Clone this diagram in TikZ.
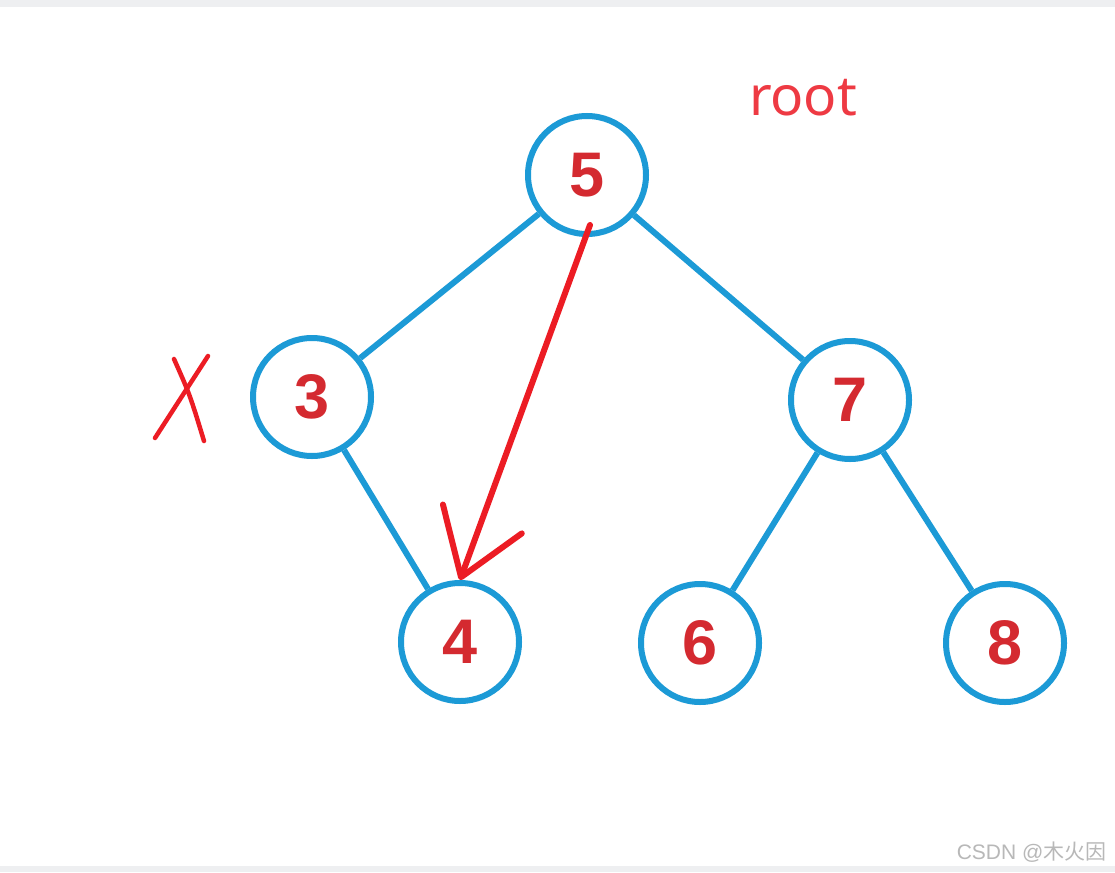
\documentclass[tikz,border=0pt]{standalone}
\usepackage{fontspec}
\usetikzlibrary{arrows.meta}
\setmainfont{Liberation Sans}
\newfontfamily\rootfont{Noto Sans}
\newfontfamily\cjk{Noto Sans CJK SC}
\definecolor{treeblue}{HTML}{1C9AD6}
\definecolor{numred}{HTML}{D42A30}
\definecolor{inkred}{HTML}{EC1C24}
\definecolor{rootred}{HTML}{EE3A43}
\definecolor{bandgray}{HTML}{EEEFF1}
\definecolor{marktext}{HTML}{B8B8B8}
\tikzset{treenode/.style={circle,draw=treeblue,line width=6pt,minimum size=118pt,
  inner sep=0pt,font=\fontsize{63}{63}\selectfont\bfseries,text=numred},
  branch/.style={draw=treeblue,line width=6pt},
  ink/.style={draw=inkred,line width=6pt,line cap=round,line join=round}}

\begin{document}
\begin{tikzpicture}[x=1pt,y=-1pt]
\fill[white] (0,0) rectangle (1115,872);
\fill[bandgray] (0,0) rectangle (1115,7);
\fill[bandgray] (0,866) rectangle (1115,872);
% tree
\node[treenode] (n5) at (587,175) {5};
\node[treenode] (n3) at (312,397) {3};
\node[treenode] (n7) at (850,400) {7};
\node[treenode] (n4) at (460,642) {4};
\node[treenode] (n6) at (700,643) {6};
\node[treenode] (n8) at (1005,643) {8};
\draw[branch] (n5)--(n3);\draw[branch] (n5)--(n7);
\draw[branch] (n3)--(n4);
\draw[branch] (n7)--(n6);\draw[branch] (n7)--(n8);
% hand marks
\node[font=\rootfont\fontsize{55}{55}\selectfont,text=rootred] (root) at (803,98) {root};
\coordinate (tail) at (590,225);
\draw[ink,-{Straight Barb[length=62pt,width=84pt,round]}] (tail)--(n4.north);
\draw[ink,line width=4.5pt] (155,438)--(208,356);
\draw[ink,line width=4.5pt] (174,359) .. controls (190,395) .. (204,441);
\node[anchor=east,text=marktext,font=\fontsize{21}{21}\selectfont] (mark) at (1110,852) {CSDN @{\cjk 木火因}};
\end{tikzpicture}
\end{document}
